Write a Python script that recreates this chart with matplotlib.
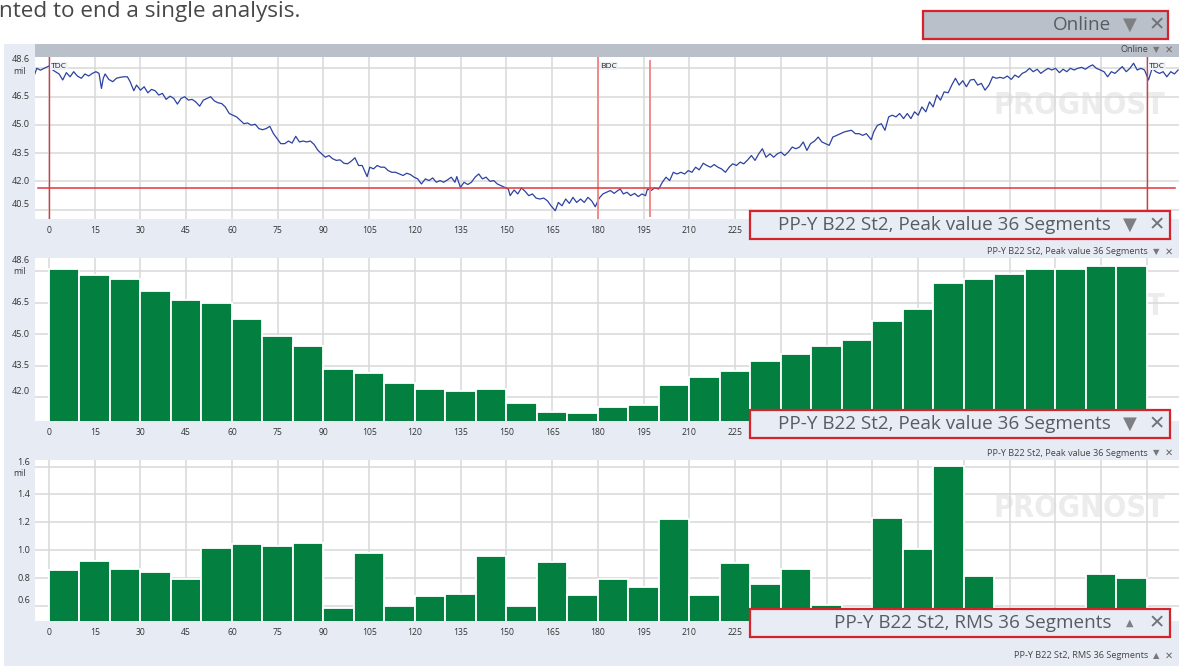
import matplotlib
matplotlib.use("Agg")
import matplotlib.pyplot as plt
import matplotlib.transforms as mtransforms
from matplotlib.patches import Rectangle

plt.rcParams['font.family'] = ['Open Sans', 'DejaVu Sans']

# ---------------- data ----------------
trace_deg = [
    -5.0, -4.0, -2.8, -1.6, 0.0, 0.9, 2.1, 3.3, 4.5, 5.7,
    6.9, 8.1, 9.3, 10.6, 11.8, 13.0, 14.2, 15.4, 16.4, 17.2,
    17.8, 18.4, 19.6, 20.9, 22.1, 23.3, 24.5, 25.7, 26.6, 27.8,
    28.7, 30.0, 31.2, 32.4, 33.6, 34.8, 36.0, 37.2, 38.4, 39.7,
    40.9, 42.1, 43.3, 44.5, 45.7, 46.9, 48.1, 49.4, 50.6, 51.8,
    53.0, 54.2, 55.4, 56.6, 57.8, 59.1, 60.3, 61.5, 62.7, 63.9,
    65.1, 66.3, 67.6, 68.8, 70.0, 71.2, 72.4, 73.6, 74.8, 76.0,
    77.3, 78.5, 79.7, 80.9, 82.1, 83.3, 84.5, 85.7, 86.9, 88.2,
    89.4, 90.6, 91.8, 93.0, 94.2, 95.4, 96.7, 97.9, 99.1, 100.3,
    101.5, 102.7, 104.3, 105.2, 106.4, 107.6, 108.8, 110.0, 111.2, 112.4,
    113.6, 114.9, 116.1, 117.3, 118.5, 119.7, 120.9, 122.1, 123.4, 124.6,
    125.8, 127.0, 128.2, 129.4, 130.6, 131.9, 133.1, 133.7, 134.9, 136.1,
    137.3, 138.5, 139.7, 140.9, 142.1, 143.3, 144.6, 145.8, 147.0, 148.2,
    149.4, 150.6, 151.2, 152.5, 153.7, 154.9, 156.1, 157.3, 158.5, 159.7,
    160.9, 162.2, 163.4, 164.6, 166.0, 167.0, 168.2, 169.4, 170.6, 171.8,
    173.0, 174.3, 175.5, 176.7, 177.9, 179.1,
    180.4, 181.6, 182.8, 184.1, 185.3, 186.5, 187.3, 188.3, 189.5, 190.7,
    192.0, 193.2, 194.4, 195.6, 196.2, 197.4, 198.6, 199.9, 201.1, 202.3,
    203.5, 204.7, 205.9, 207.2, 208.4, 209.6, 210.8, 212.0, 213.2, 214.5,
    215.7, 216.9, 218.1, 219.3, 220.5, 221.8, 223.0, 224.2, 225.4, 226.6,
    227.8, 229.1, 230.3, 231.5, 232.7, 233.9, 235.1, 236.4, 237.6, 238.8,
    240.0, 241.2, 242.4, 243.7, 244.9, 246.1, 247.3, 248.5, 249.7, 251.0,
    252.2, 253.4, 254.6, 255.8, 257.0, 258.3, 259.5, 260.7, 261.9, 263.1,
    264.4, 265.6, 266.8, 268.0, 269.6, 270.4, 271.6, 272.9, 274.1, 275.3,
    276.5, 277.7, 278.9, 280.2, 281.4, 282.6, 283.8, 285.0, 286.2, 287.5,
    288.7, 289.9, 291.1, 292.3, 293.5, 294.8, 296.0, 297.2, 298.4, 299.6,
    300.8, 302.1, 303.3, 304.5, 305.7, 306.9, 308.2, 309.4, 310.6, 311.8,
    313.0, 314.2, 315.5, 316.7, 317.9, 319.1, 320.3, 321.5, 322.7, 324.0,
    325.2, 326.4, 327.6, 328.8, 330.0, 331.3, 332.5, 333.7, 334.9, 336.1,
    337.3, 338.6, 339.8, 341.0, 342.2, 343.4, 344.7, 345.9, 347.1, 348.3,
    349.5, 350.7, 351.9, 353.2, 354.4, 355.6, 356.8, 358.0, 359.2, 360.5,
    361.7, 362.9, 364.1, 365.3, 366.5, 367.8, 369.0, 370.2,
]
trace_mil = [
    47.55, 48.00, 47.90, 48.00, 48.12, 47.95, 47.82, 47.70, 47.38, 47.77,
    47.55, 47.82, 47.59, 47.47, 47.70, 47.59, 47.73, 47.82, 47.73, 46.93,
    47.47, 47.70, 47.41, 47.29, 47.47, 47.52, 47.55, 47.55, 47.29, 46.81,
    47.11, 46.84, 47.02, 46.70, 46.88, 46.81, 46.58, 46.67, 46.35, 46.52,
    46.40, 46.10, 46.40, 46.49, 46.31, 46.35, 46.22, 45.99, 46.31, 46.40,
    46.49, 46.27, 46.17, 46.13, 45.95, 45.60, 45.51, 45.42, 45.24, 45.06,
    45.10, 44.98, 45.03, 44.80, 44.74, 44.80, 44.92, 44.53, 44.26, 44.00,
    44.00, 44.14, 44.03, 44.39, 44.09, 44.14, 44.09, 44.14, 43.96, 43.64,
    43.46, 43.28, 43.37, 43.20, 43.11, 43.14, 42.96, 42.93, 43.07, 43.25,
    42.84, 42.84, 42.25, 42.75, 42.66, 42.84, 42.75, 42.75, 42.57, 42.48,
    42.48, 42.39, 42.31, 42.43, 42.36, 42.22, 42.13, 41.86, 42.13, 42.04,
    42.18, 41.95, 42.04, 41.95, 42.07, 42.22, 41.95, 42.25, 41.68, 41.95,
    41.83, 41.95, 42.22, 42.39, 42.13, 42.22, 42.00, 42.04, 41.86, 41.77,
    41.68, 41.59, 41.24, 41.54, 41.33, 41.65, 41.47, 41.24, 41.33, 41.11,
    41.06, 41.11, 40.97, 40.70, 40.44, 40.88, 40.70, 41.06, 40.83, 41.15,
    40.88, 41.06, 40.88, 41.15, 40.97, 40.65,
    41.11, 41.33, 41.42, 41.51, 41.36, 41.51, 41.59, 41.33, 41.42, 41.24,
    41.36, 41.19, 41.33, 41.24, 41.59, 41.51, 41.65, 41.59, 41.95, 42.22,
    42.04, 42.48, 42.39, 42.48, 42.39, 42.57, 42.48, 42.75, 42.61, 42.96,
    42.84, 42.75, 42.89, 42.75, 42.66, 42.48, 42.75, 42.93, 42.84, 43.02,
    42.93, 43.14, 43.37, 43.11, 43.46, 43.73, 43.28, 43.46, 43.28, 43.46,
    43.55, 43.37, 43.55, 43.82, 43.73, 43.82, 44.09, 43.64, 44.00, 44.14,
    44.35, 44.09, 44.00, 43.91, 44.35, 44.44, 44.53, 44.62, 44.67, 44.71,
    44.53, 44.53, 44.44, 44.53, 44.21, 44.62, 44.97, 45.06, 44.71, 45.42,
    45.51, 45.42, 45.60, 45.33, 45.60, 45.33, 45.69, 45.51, 45.95, 45.69,
    46.22, 45.95, 46.58, 46.31, 46.75, 46.70, 47.11, 47.47, 47.11, 47.34,
    47.02, 47.38, 47.41, 47.11, 47.20, 46.84, 47.11, 47.55, 47.47, 47.52,
    47.47, 47.59, 47.41, 47.64, 47.52, 47.73, 47.82, 48.00, 47.82, 47.95,
    47.73, 47.88, 48.00, 47.91, 48.00, 47.77, 47.95, 47.82, 48.00, 47.91,
    48.00, 48.05, 47.95, 48.09, 48.18, 48.00, 47.91, 47.82, 47.55, 47.82,
    47.73, 47.91, 48.09, 47.82, 48.00, 48.27, 47.91, 48.00, 47.91, 47.38,
    48.00, 47.82, 47.73, 47.82, 47.55, 47.82, 47.70, 47.91,
]

segment_start = list(range(0, 360, 10))
peak_mil = [48.13, 47.82, 47.63, 47.06, 46.64, 46.52, 45.72, 44.93, 44.45, 43.37,
            43.18, 42.68, 42.39, 42.29, 42.39, 41.72, 41.31, 41.26, 41.55, 41.64,
            42.58, 42.99, 43.28, 43.74, 44.09, 44.45, 44.72, 45.66, 46.21, 47.47,
            47.63, 47.87, 48.10, 48.10, 48.27, 48.27]
rms_mil = [0.859, 0.922, 0.866, 0.847, 0.797, 1.014, 1.047, 1.033, 1.054, 0.590,
           0.979, 0.605, 0.674, 0.688, 0.960, 0.603, 0.917, 0.681, 0.792, 0.738,
           1.222, 0.681, 0.910, 0.759, 0.866, 0.611, 0.560, 1.233, 1.012, 1.603,
           0.818, 0.560, 0.560, 0.560, 0.833, 0.804]

x_ticks = list(range(0, 361, 15))
x_labels_visible_to = 225          # labels beyond this are hidden behind the callouts
y_ticks_trace = [40.5, 42.0, 43.5, 45.0, 46.5, 48.0]
y_ticks_peak = [42.0, 43.5, 45.0, 46.5, 48.0]
y_ticks_rms = [0.6, 0.8, 1.0, 1.2, 1.4, 1.6]
y_top_label_trace = "48.6"
y_top_label_peak = "48.6"
y_top_label_rms = "1.6"
unit = "mil"

tdc_deg = [0, 360]
bdc_deg = 180
cursor_deg = 197
threshold_mil = 41.63

intro_text = "nted to end a single analysis."
online_title = "Online"
peak_title = "PP-Y B22 St2, Peak value 36 Segments"
rms_title = "PP-Y B22 St2, RMS 36 Segments"

# ---------------- style ----------------
W, H = 1179, 666
BG = '#e7ebf4'
HEADER = '#b9c0ca'
GRID = '#d9d9d9'
GREEN = '#037f40'
LINE = '#2c42a0'
RED = '#e2373d'
PINK = '#f08a8e'
CALLOUT_RED = '#d5232c'
TXT = '#333333'
UI = '#585c62'
XLIM = (-4.59, 370.5)

fig = plt.figure(figsize=(W / 100, H / 100), dpi=100)
fig.patch.set_facecolor('white')

bg = fig.add_axes([0, 0, 1, 1], zorder=0)
bg.set_xlim(0, W)
bg.set_ylim(H, 0)
bg.axis('off')
bg.add_patch(Rectangle((4, 44), W - 4, H - 44, facecolor=BG, edgecolor='none'))
bg.add_patch(Rectangle((35, 44), W - 35, 13, facecolor=HEADER, edgecolor='none'))
bg.text(-1, 17.5, intro_text, fontsize=16.2, color='#474747', ha='left', va='baseline')


def small_header(y, title, arrow):
    bg.text(1148, y, title, fontsize=6.6, color='#444', ha='right', va='center')
    bg.text(1156, y, arrow, fontsize=6, color='#777', ha='center', va='center',
            family=['DejaVu Sans'])
    bg.text(1169, y, '\u2715', fontsize=7, color='#666', ha='center', va='center',
            family=['DejaVu Sans'])


small_header(50, online_title, '\u25bc')
small_header(252, peak_title, '\u25bc')
small_header(453, peak_title, '\u25bc')
small_header(656, rms_title, '\u25b2')


def panel(top, bottom):
    ax = fig.add_axes([35 / W, 1 - bottom / H, (W - 35) / W, (bottom - top) / H], zorder=2)
    ax.set_facecolor('white')
    for s in ax.spines.values():
        s.set_visible(False)
    ax.set_xlim(*XLIM)
    ax.set_xticks(x_ticks)
    ax.set_xticklabels([str(t) if t <= x_labels_visible_to else '' for t in x_ticks])
    ax.tick_params(axis='x', length=0, pad=5, labelsize=6.2, labelcolor=TXT)
    ax.tick_params(axis='y', length=0, labelleft=False)
    ax.set_axisbelow(True)
    ax.grid(True, color=GRID, lw=1.1)
    ax.text(0.913, 0.70, 'PROGNOST', transform=ax.transAxes, fontsize=22,
            fontweight='bold', color='#ececec', ha='center', va='center',
            family=['DejaVu Sans'], fontstretch='condensed', zorder=0.3)
    return ax


def y_labels(ax, ticks, top_label):
    blend = mtransforms.blended_transform_factory(ax.transAxes, ax.transData)
    lo = min(ticks)
    for t in ticks[:-1]:
        tr = mtransforms.offset_copy(blend, fig=fig, x=-5, y=(5.5 if t == lo else 0), units='dots')
        ax.text(0, t, f"{t:.1f}", transform=tr, ha='right', va='center',
                fontsize=6.6, color=TXT)
    ax.set_yticks(ticks)
    tr_top = mtransforms.offset_copy(ax.transAxes, fig=fig, x=-5, y=-2.5, units='dots')
    ax.text(0, 1, top_label, transform=tr_top, ha='right', va='center', fontsize=6.6, color=TXT)
    tr_unit = mtransforms.offset_copy(ax.transAxes, fig=fig, x=-9, y=-14, units='dots')
    ax.text(0, 1, unit, transform=tr_unit, ha='right', va='center', fontsize=6.2, color=TXT)


# ---- panel 1: trace ----
ax1 = panel(57, 219)
ax1.set_ylim(40.0, 48.6)
y_labels(ax1, y_ticks_trace, y_top_label_trace)
ax1.plot(trace_deg, trace_mil, color=LINE, lw=0.9, zorder=3)
for d in tdc_deg:
    ax1.axvline(d, color=RED, lw=1.0, zorder=4)
ax1.axvline(bdc_deg, color=PINK, lw=1.4, zorder=4)
ax1.axvline(cursor_deg, ymin=0.0185, ymax=0.975, color=PINK, lw=1.4, zorder=4)
ax1.axhline(threshold_mil, xmin=0.0026, xmax=0.9965, color=RED, lw=1.1, zorder=4)
blend1 = mtransforms.blended_transform_factory(ax1.transData, ax1.transAxes)
for d, lab in [(tdc_deg[0], 'TDC'), (bdc_deg, 'BDC'), (tdc_deg[1], 'TDC')]:
    tr = mtransforms.offset_copy(blend1, fig=fig, x=2, y=-9, units='dots')
    ax1.text(d, 1, lab, transform=tr, ha='left', va='center', fontsize=6, color='#222',
             zorder=5, bbox=dict(facecolor='#eef1f7', edgecolor='none', pad=0.6))

# ---- panel 2: peak ----
ax2 = panel(258, 421)
ax2.set_ylim(40.88, 48.64)
y_labels(ax2, y_ticks_peak, y_top_label_peak)
ax2.bar(segment_start, peak_mil, width=10, align='edge', color=GREEN,
        edgecolor='white', lw=1.3, zorder=3)

# ---- panel 3: rms ----
ax3 = panel(460, 621)
ax3.set_ylim(0.494, 1.647)
y_labels(ax3, y_ticks_rms, y_top_label_rms)
ax3.bar(segment_start, rms_mil, width=10, align='edge', color=GREEN,
        edgecolor='white', lw=1.3, zorder=3)

# ---- callouts overlay ----
ov = fig.add_axes([0, 0, 1, 1], zorder=10)
ov.set_xlim(0, W)
ov.set_ylim(H, 0)
ov.axis('off')


def callout(x0, y0, x1, y1, title, arrow, face):
    ov.add_patch(Rectangle((x0, y0), x1 - x0, y1 - y0, facecolor=face,
                           edgecolor=CALLOUT_RED, lw=1.6))
    yc = (y0 + y1) / 2
    ov.text(1111, yc, title, fontsize=13.6, color=UI, ha='right', va='center')
    ov.text(1130, yc, arrow, fontsize=(13 if arrow == '\u25bc' else 7), color='#7d7f83',
            ha='center', va='center', family=['DejaVu Sans'])
    ov.text(1157, yc, '\u2715', fontsize=14, color='#6f7276', ha='center', va='center',
            family=['DejaVu Sans'])


callout(923, 11, 1168, 39, online_title, '\u25bc', HEADER)
callout(750, 211, 1170, 239, peak_title, '\u25bc', '#e8ecf4')
callout(750, 410, 1170, 438, peak_title, '\u25bc', '#e8ecf4')
callout(750, 609, 1170, 637, rms_title, '\u25b2', '#e8ecf4')

fig.savefig('out.png', dpi=100)
